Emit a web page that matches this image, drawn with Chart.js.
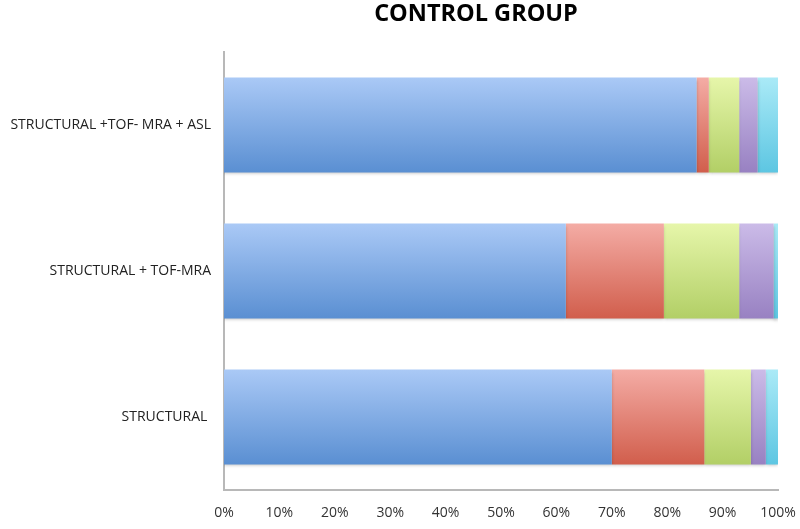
<!DOCTYPE html>
<html>
<head>
<meta charset="utf-8">
<script src="https://cdn.jsdelivr.net/npm/chart.js@4/dist/chart.umd.min.js"></script>
<style>
  html, body { margin: 0; padding: 0; background: #fff; }
  #wrap { width: 800px; height: 529px; }
</style>
</head>
<body>
<div id="wrap"><canvas id="c"></canvas></div>
<script>
const categories = ["STRUCTURAL +TOF- MRA + ASL", "STRUCTURAL + TOF-MRA", "STRUCTURAL "];
const blueVals   = [85.3, 61.7, 70.0];
const redVals    = [2.2, 17.7, 16.7];
const greenVals  = [5.5, 13.6, 8.4];
const purpleVals = [3.3, 6.2, 2.7];
const cyanVals   = [3.7, 0.8, 2.2];
const tickLabels = ["0%", "10%", "20%", "30%", "40%", "50%", "60%", "70%", "80%", "90%", "100%"];

// top / bottom gradient colours per series
const shades = [
  ["#aac9f6", "#5a8fd2"],
  ["#f4aca5", "#d15e4c"],
  ["#e6f6aa", "#b2cf66"],
  ["#cbbbe8", "#9881c2"],
  ["#aaeaf7", "#5dc6e2"]
];

function barFill(idx) {
  return function (context) {
    const chart = context.chart;
    const y = chart.scales.y;
    if (!chart.chartArea || !y || context.dataIndex === undefined) return shades[idx][1];
    const center = y.getPixelForValue(context.dataIndex);
    const half = (chart.chartArea.bottom - chart.chartArea.top) / categories.length * 0.65 / 2;
    const g = chart.ctx.createLinearGradient(0, center - half, 0, center + half);
    g.addColorStop(0, shades[idx][0]);
    g.addColorStop(1, shades[idx][1]);
    return g;
  };
}

const series = [blueVals, redVals, greenVals, purpleVals, cyanVals];

const titlePlugin = {
  id: "titleText",
  afterDraw(chart) {
    const ctx = chart.ctx;
    ctx.save();
    ctx.fillStyle = "#000";
    ctx.font = "bold 23.5px 'Open Sans', sans-serif";
    ctx.textAlign = "center";
    ctx.textBaseline = "middle";
    ctx.fillText("CONTROL GROUP", 476, 14);
    ctx.restore();
  }
};

const shadowPlugin = {
  id: "barShadow",
  beforeDatasetsDraw(chart) {
    const ctx = chart.ctx;
    ctx.save();
    ctx.shadowColor = "rgba(0,0,0,0.22)";
    ctx.shadowBlur = 3;
    ctx.shadowOffsetY = 2;
  },
  afterDatasetsDraw(chart) {
    chart.ctx.restore();
  }
};

new Chart(document.getElementById("c"), {
  type: "bar",
  data: {
    labels: categories,
    datasets: series.map((vals, i) => ({
      data: vals,
      backgroundColor: barFill(i),
      borderWidth: 0,
      barPercentage: 0.65,
      categoryPercentage: 1
    }))
  },
  options: {
    indexAxis: "y",
    responsive: true,
    maintainAspectRatio: false,
    animation: false,
    layout: { padding: { top: 52, right: 22, left: 0, bottom: 0 } },
    plugins: {
      legend: { display: false },
      tooltip: { enabled: false }
    },
    scales: {
      x: {
        stacked: true,
        min: 0,
        max: 100,
        grid: { display: false },
        border: { display: true, color: "#b8b8b8", width: 2 },
        ticks: {
          stepSize: 10,
          padding: 7,
          color: "#333",
          font: { family: "'Open Sans', sans-serif", size: 14 },
          callback: (v, i) => tickLabels[i]
        },
        afterFit(scale) {
          scale.height = 39;
          scale.paddingRight = 0;
          scale.paddingLeft = 0;
        }
      },
      y: {
        stacked: true,
        grid: { display: false },
        border: { display: true, color: "#b8b8b8", width: 2 },
        ticks: {
          padding: 5,
          color: "#222",
          font: { family: "'Open Sans', sans-serif", size: 14 }
        },
        afterFit(scale) { scale.width = 224; }
      }
    }
  },
  plugins: [shadowPlugin, titlePlugin]
});
</script>
</body>
</html>
